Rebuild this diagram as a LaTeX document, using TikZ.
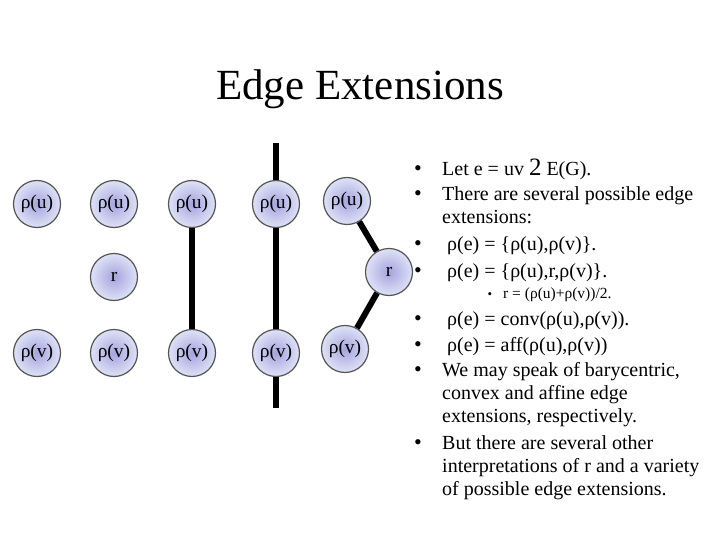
\documentclass[tikz,border=0pt]{standalone}
\usepackage{fontspec}
\setmainfont{Liberation Serif}
\definecolor{ballin}{HTML}{A4A4DE}
\definecolor{ballout}{HTML}{DEE2F6}
\definecolor{ballrim}{HTML}{555555}
\begin{document}
\begin{tikzpicture}[x=1pt,y=-1pt,
  ball/.style={circle,minimum size=47pt,inner sep=0pt,draw=ballrim,line width=1.2pt,
    inner color=ballin,outer color=ballout,font=\fontsize{19.5}{19.5}\selectfont},
  edgeline/.style={line width=6pt},
  txt/.style={anchor=base west,inner sep=0pt,font=\fontsize{20}{24}\selectfont},
  bul/.style={anchor=base,inner sep=0pt,font=\fontsize{22}{24}\selectfont},
  subtxt/.style={anchor=base west,inner sep=0pt,font=\fontsize{15.5}{16}\selectfont},
  subbul/.style={anchor=base,inner sep=0pt,font=\fontsize{13}{14}\selectfont},
]
\useasboundingbox (0,0) rectangle (720,540);

% title
\node[anchor=base,inner sep=0pt,font=\fontsize{43}{43}\selectfont] (title) at (360,100) {Edge Extensions};

% column 1
\node[ball] (u1) at (37,204) {ρ(u)};
\node[ball] (v1) at (37,353) {ρ(v)};
% column 2
\node[ball] (u2) at (114,204) {ρ(u)};
\node[ball] (r2) at (114,277) {r};
\node[ball] (v2) at (114,353) {ρ(v)};
% column 3
\node[ball] (u3) at (192,204) {ρ(u)};
\node[ball] (v3) at (192,353) {ρ(v)};
\draw[edgeline] (u3) -- (v3);
% column 4
\coordinate (top4) at (276,143);
\coordinate (bot4) at (276,408);
\node[ball] (u4) at (276,204) {ρ(u)};
\node[ball] (v4) at (276,353) {ρ(v)};
\draw[edgeline] (top4) -- (u4);
\draw[edgeline] (u4) -- (v4);
\draw[edgeline] (v4) -- (bot4);
% column 5
\node[ball] (u5) at (347,201) {ρ(u)};
\node[ball] (r5) at (389,272) {r};
\node[ball] (v5) at (345,349) {ρ(v)};
\draw[edgeline] (u5) -- (r5);
\draw[edgeline] (r5) -- (v5);

% bullets text
\node[bul] (b1) at (418,176) {•};
\node[txt] (t1) at (442,176) {Let e = uv {\fontsize{25}{25}\selectfont 2} E(G).};
\node[bul] (b2) at (418,201) {•};
\node[txt] (t2) at (442,201) {There are several possible edge};
\node[txt] (t3) at (442,224) {extensions:};
\node[bul] (b3) at (418,250) {•};
\node[txt] (t4) at (447,250) {ρ(e) = \{ρ(u),ρ(v)\}.};
\node[bul] (b4) at (418,277) {•};
\node[txt] (t5) at (447,277) {ρ(e) = \{ρ(u),r,ρ(v)\}.};
\node[subbul] (b5) at (490,298) {•};
\node[subtxt] (t6) at (503,298) {r = (ρ(u)+ρ(v))/2.};
\node[bul] (b6) at (418,325) {•};
\node[txt] (t7) at (447,325) {ρ(e) = conv(ρ(u),ρ(v)).};
\node[bul] (b7) at (418,351) {•};
\node[txt] (t8) at (447,351) {ρ(e) = aff(ρ(u),ρ(v))};
\node[bul] (b8) at (418,376) {•};
\node[txt] (t9) at (442,376) {We may speak of barycentric,};
\node[txt] (t10) at (442,399) {convex and affine edge};
\node[txt] (t11) at (442,422) {extensions, respectively.};
\node[bul] (b9) at (418,449) {•};
\node[txt] (t12) at (442,449) {But there are several other};
\node[txt] (t13) at (442,472) {interpretations of r and a variety};
\node[txt] (t14) at (442,495) {of possible edge extensions.};
\end{tikzpicture}
\end{document}
